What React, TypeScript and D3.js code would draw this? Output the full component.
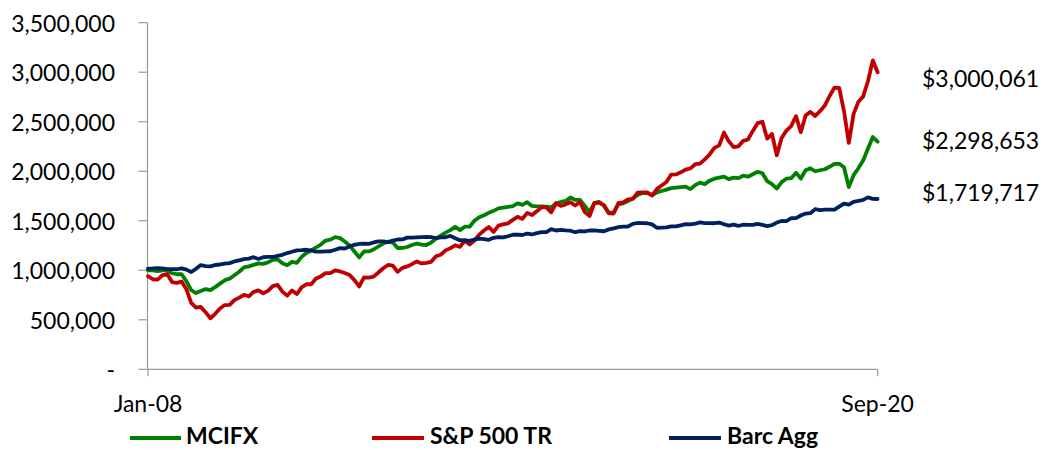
import React from "react";
import * as d3 from "d3";

// Monthly growth of $1,000,000 (values in $ thousands), Jan-2008 .. Sep-2020
const startMonth = new Date(2008, 0, 1);
const endMonth = new Date(2020, 9, 1);
const months = d3.timeMonth.range(startMonth, endMonth); // 153 month-ends

const mcifxK = [
  1000, 1000, 990, 1000, 1000, 970, 960, 960, 890, 800, 770, 790,
  810, 800, 830, 865, 900, 915, 950, 985, 1030, 1040, 1055, 1070,
  1065, 1080, 1105, 1110, 1070, 1050, 1085, 1075, 1135, 1175, 1200, 1230,
  1260, 1300, 1310, 1335, 1325, 1290, 1250, 1190, 1130, 1190, 1190, 1210,
  1240, 1270, 1290, 1280, 1225, 1225, 1235, 1255, 1270, 1260, 1255, 1280,
  1320, 1350, 1380, 1405, 1440, 1405, 1440, 1440, 1500, 1535, 1555, 1580,
  1600, 1625, 1632, 1640, 1648, 1675, 1660, 1688, 1650, 1645, 1645, 1642,
  1635, 1675, 1690, 1700, 1735, 1710, 1710, 1650, 1590, 1680, 1690, 1650,
  1580, 1585, 1665, 1675, 1700, 1725, 1760, 1780, 1780, 1760, 1785, 1800,
  1815, 1830, 1835, 1840, 1845, 1820, 1860, 1885, 1870, 1905, 1925, 1935,
  1945, 1920, 1935, 1930, 1955, 1945, 1970, 1995, 1980, 1900, 1870, 1825,
  1890, 1925, 1930, 1985, 1925, 2010, 2030, 2000, 2010, 2020, 2045, 2075,
  2075, 2040, 1840, 1960, 2030, 2110, 2230, 2345, 2298.653,
];

const sp500K = [
  940.0, 909.5, 905.6, 949.7, 962.0, 880.9, 873.5, 886.2, 807.2, 671.6, 623.4, 630.0,
  576.9, 515.5, 560.6, 614.2, 648.6, 649.9, 699.0, 724.3, 751.3, 737.3, 781.5, 796.6,
  767.9, 791.7, 839.5, 852.7, 784.6, 743.6, 795.7, 759.8, 827.6, 859.0, 859.1, 916.5,
  938.2, 970.4, 970.8, 999.5, 988.2, 971.7, 952.0, 900.3, 837.0, 928.5, 926.5, 935.9,
  977.8, 1020.0, 1053.6, 1047.0, 984.1, 1024.6, 1038.9, 1062.2, 1089.6, 1069.5, 1075.7, 1085.5,
  1141.7, 1157.3, 1200.7, 1223.8, 1252.5, 1235.7, 1298.6, 1260.9, 1300.5, 1360.3, 1401.8, 1437.3,
  1387.6, 1451.0, 1463.2, 1474.0, 1508.6, 1539.9, 1518.6, 1579.4, 1557.3, 1595.3, 1638.2, 1634.1,
  1585.1, 1676.2, 1649.7, 1665.6, 1687.1, 1654.3, 1689.1, 1587.2, 1548.0, 1678.7, 1683.7, 1657.1,
  1574.9, 1572.8, 1679.5, 1686.0, 1716.4, 1720.8, 1784.3, 1786.8, 1787.2, 1754.6, 1819.5, 1855.6,
  1890.9, 1965.9, 1968.3, 1988.6, 2016.6, 2029.1, 2070.9, 2077.3, 2120.1, 2169.5, 2236.1, 2260.9,
  2390.5, 2302.3, 2243.8, 2252.3, 2306.6, 2320.9, 2407.2, 2485.7, 2499.9, 2328.9, 2376.4, 2161.8,
  2335.0, 2409.9, 2456.7, 2556.2, 2393.9, 2562.7, 2599.6, 2558.5, 2606.4, 2662.9, 2759.6, 2842.9,
  2841.7, 2607.8, 2285.8, 2578.9, 2701.6, 2755.4, 2910.8, 3120.1, 3000.061,
];

const barcAggK = [
  1016.8, 1018.2, 1021.7, 1019.5, 1011.8, 1011.0, 1010.2, 1019.8, 1006.1, 982.4, 1014.3, 1052.1,
  1042.8, 1038.9, 1053.3, 1058.4, 1066.0, 1072.2, 1089.0, 1100.3, 1111.9, 1117.6, 1132.1, 1114.4,
  1131.5, 1135.7, 1134.3, 1146.2, 1155.8, 1174.0, 1186.8, 1201.5, 1202.8, 1207.1, 1200.2, 1187.3,
  1188.6, 1191.5, 1192.3, 1207.4, 1223.4, 1219.8, 1239.2, 1257.3, 1266.6, 1268.0, 1267.0, 1280.9,
  1292.2, 1291.9, 1284.8, 1299.1, 1310.8, 1311.3, 1329.4, 1330.3, 1332.2, 1334.9, 1337.0, 1335.1,
  1325.8, 1332.4, 1333.5, 1346.9, 1322.9, 1302.4, 1304.2, 1297.6, 1309.9, 1320.5, 1315.6, 1308.1,
  1327.5, 1334.5, 1332.2, 1343.4, 1358.7, 1359.4, 1356.0, 1370.9, 1361.6, 1374.9, 1384.7, 1385.9,
  1415.0, 1401.7, 1408.2, 1403.1, 1399.7, 1384.5, 1394.2, 1392.2, 1401.7, 1402.0, 1398.3, 1393.9,
  1413.1, 1423.2, 1436.3, 1441.7, 1442.2, 1468.1, 1477.4, 1475.8, 1474.9, 1463.7, 1429.0, 1431.0,
  1433.9, 1443.5, 1442.7, 1453.8, 1465.0, 1463.6, 1469.9, 1483.1, 1476.0, 1476.9, 1475.0, 1481.8,
  1464.7, 1450.8, 1460.1, 1449.3, 1459.6, 1457.8, 1458.1, 1467.4, 1458.0, 1446.5, 1455.2, 1482.0,
  1497.7, 1496.8, 1525.5, 1526.0, 1553.1, 1572.7, 1576.2, 1617.0, 1608.4, 1613.3, 1612.5, 1611.4,
  1642.3, 1671.9, 1662.0, 1691.6, 1699.6, 1710.3, 1735.7, 1721.7, 1719.717,
];

const seriesNames = ["MCIFX", "S&P 500 TR", "Barc Agg"];
const seriesColors = ["#008000", "#C00000", "#002060"];
const yTickValues = [0, 500000, 1000000, 1500000, 2000000, 2500000, 3000000, 3500000];
const xTickLabels = ["Jan-08", "Sep-20"];

const W = 1043;
const H = 450;
const FONT = "Lato, 'Open Sans', sans-serif";

export default function App() {
  const series = [mcifxK, sp500K, barcAggK].map((arr) => arr.map((v) => v * 1000));
  const n = months.length;

  const x = d3.scaleLinear().domain([0, n - 1]).range([148, 877.6]);
  const y = d3.scaleLinear().domain([0, 3500000]).range([369.3, 22.7]);

  const line = d3
    .line<number>()
    .x((_, i) => x(i))
    .y((d) => y(d));

  const fmt = d3.format(",");
  const yLabel = (v: number) => (v === 0 ? "-" : fmt(v));
  const moneyFmt = (v: number) => "$" + fmt(Math.round(v));
  const xLabel = d3.timeFormat("%b-%y");

  const axisColor = "#999999";
  const x0 = x(0);
  const xEnd = x(n - 1);

  const endLabels = [
    { v: series[1][n - 1], cy: 77.5 },
    { v: series[0][n - 1], cy: 140 },
    { v: series[2][n - 1], cy: 192 },
  ];

  const legendItems = [
    { x1: 130, x2: 181, tx: 186 },
    { x1: 372, x2: 424, tx: 430 },
    { x1: 669, x2: 721, tx: 727 },
  ];

  return (
    <div style={{ position: "absolute", left: 0, top: 0 }}>
      <svg width={W} height={H} style={{ display: "block", background: "#fff" }}>
        {/* Y axis */}
        <line x1={x0 - 0.5} x2={x0 - 0.5} y1={y(3500000)} y2={y(0)} stroke={axisColor} strokeWidth={1.2} />
        {yTickValues.map((t) => (
          <g key={t}>
            <line x1={138.5} x2={x0 - 0.5} y1={y(t)} y2={y(t)} stroke={axisColor} strokeWidth={1.2} />
            <text
              x={115}
              y={y(t)}
              textAnchor="end"
              dominantBaseline="central"
              fontFamily={FONT}
              fontSize={23}
              fill="#000"
            >
              {yLabel(t)}
            </text>
          </g>
        ))}
        {/* X axis */}
        <line x1={x0 - 0.5} x2={xEnd} y1={y(0)} y2={y(0)} stroke={axisColor} strokeWidth={1.2} />
        {[0, n - 1].map((i, k) => (
          <g key={i}>
            <line x1={x(i)} x2={x(i)} y1={y(0)} y2={y(0) + 7} stroke={axisColor} strokeWidth={1.2} />
            <text
              x={x(i)}
              y={403}
              textAnchor="middle"
              dominantBaseline="central"
              fontFamily={FONT}
              fontSize={23}
              fill="#000"
            >
              {xTickLabels[k] ?? xLabel(months[i])}
            </text>
          </g>
        ))}
        {/* Series */}
        {series.map((s, k) => (
          <path
            key={seriesNames[k]}
            d={line(s) || ""}
            fill="none"
            stroke={seriesColors[k]}
            strokeWidth={3.8}
            strokeLinejoin="round"
            strokeLinecap="round"
          />
        ))}
        {/* End value labels */}
        {endLabels.map((l, k) => (
          <text
            key={k}
            x={922}
            y={l.cy}
            dominantBaseline="central"
            fontFamily={FONT}
            fontSize={23}
            fill="#000"
          >
            {moneyFmt(l.v)}
          </text>
        ))}
        {/* Legend */}
        {legendItems.map((li, k) => (
          <g key={k}>
            <line x1={li.x1} x2={li.x2} y1={438} y2={438} stroke={seriesColors[k]} strokeWidth={3.8} />
            <text x={li.tx} y={444} fontFamily={FONT} fontWeight="bold" fontSize={23} fill="#000">
              {seriesNames[k]}
            </text>
          </g>
        ))}
      </svg>
    </div>
  );
}
